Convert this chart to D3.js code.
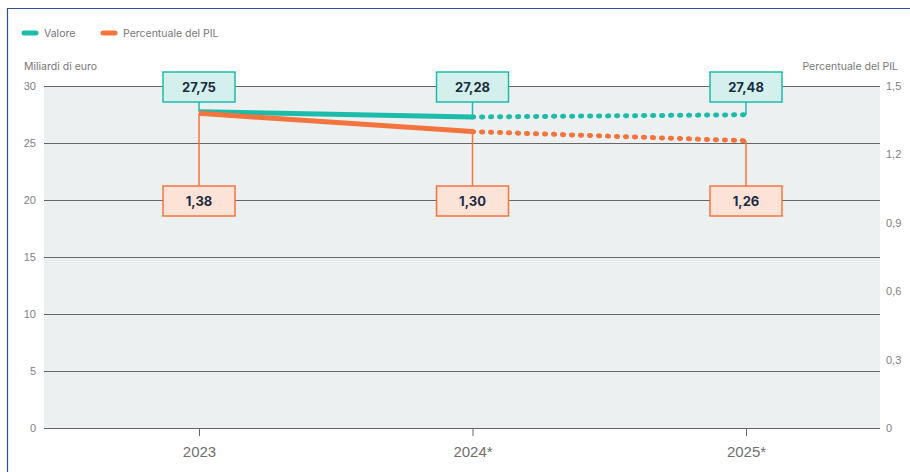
<!DOCTYPE html>
<html><head><meta charset="utf-8">
<script src="https://cdn.jsdelivr.net/npm/d3@7"></script>
<style>body{margin:0;background:#fff;}svg{display:block;font-family:Inter,"Noto Sans",sans-serif;}</style>
</head><body><svg id="c" width="910" height="472"></svg>
<script>
const categories = ["2023", "2024*", "2025*"];
const valore = [27.75, 27.28, 27.48];
const percentuale = [1.38, 1.30, 1.26];
const valoreLabels = ["27,75", "27,28", "27,48"];
const percLabels = ["1,38", "1,30", "1,26"];
const leftTicks = [0, 5, 10, 15, 20, 25, 30];
const rightTicks = [0, 0.3, 0.6, 0.9, 1.2, 1.5];
const fmtRight = d => d === 0 ? "0" : d.toFixed(1).replace(".", ",");

const svg = d3.select("#c");
const teal = "#1dbcaa", orange = "#f4743e";
const m = {l: 44, r: 880, t: 86, b: 428};

// frame
svg.append("line").attr("x1", 7.5).attr("x2", 7.5).attr("y1", 8).attr("y2", 472).attr("stroke", "#2c4ea0").attr("stroke-width", 1.2);
svg.append("line").attr("x1", 7).attr("x2", 910).attr("y1", 8.5).attr("y2", 8.5).attr("stroke", "#2c4ea0").attr("stroke-width", 1.2);

const x = d3.scalePoint().domain(categories).range([199, 746]);
const y = d3.scaleLinear().domain([0, 30]).range([m.b, m.t]);
const y2 = d3.scaleLinear().domain([0, 1.5]).range([m.b, m.t]);

svg.append("rect").attr("x", m.l).attr("y", m.t).attr("width", m.r - m.l).attr("height", m.b - m.t).attr("fill", "#edf0f0");

// left axis
const gl = svg.append("g").attr("transform", `translate(${m.l},0)`)
  .call(d3.axisLeft(y).tickValues(leftTicks).tickSize(-(m.r - m.l)).tickPadding(8));
gl.select(".domain").remove();
gl.selectAll(".tick line").attr("stroke", "#666").attr("stroke-width", 1);
gl.selectAll(".tick text").attr("fill", "#808080").attr("font-size", 11);

// right axis
const gr = svg.append("g").attr("transform", `translate(${m.r},0)`)
  .call(d3.axisRight(y2).tickValues(rightTicks).tickFormat(fmtRight).tickSize(0).tickPadding(6));
gr.select(".domain").remove();
gr.selectAll(".tick text").attr("fill", "#808080").attr("font-size", 11);

// bottom axis
const gb = svg.append("g").attr("transform", `translate(0,${m.b})`)
  .call(d3.axisBottom(x).tickSize(8).tickPadding(10));
gb.select(".domain").attr("d", `M${m.l},0.5H${m.r}`).attr("stroke", "#666");
gb.selectAll(".tick line").attr("stroke", "#666");
gb.selectAll(".tick text").attr("fill", "#707070").attr("font-size", 15);

// axis titles
svg.append("text").attr("x", 24).attr("y", 70).attr("font-size", 10.5).attr("fill", "#777").text("Miliardi di euro");
svg.append("text").attr("x", 898).attr("y", 70).attr("text-anchor", "end").attr("font-size", 10.5).attr("fill", "#777").text("Percentuale del PIL");

// legend
const leg = [{c: teal, t: "Valore", x: 22}, {c: orange, t: "Percentuale del PIL", x: 101}];
leg.forEach(l => {
  svg.append("line").attr("x1", l.x + 2).attr("x2", l.x + 14).attr("y1", 33).attr("y2", 33)
    .attr("stroke", l.c).attr("stroke-width", 5).attr("stroke-linecap", "round");
  svg.append("text").attr("x", l.x + 22).attr("y", 37).attr("font-size", 10.5).attr("fill", "#777").text(l.t);
});

function drawSeries(vals, sc, color) {
  const pts = vals.map((v, i) => [x(categories[i]), sc(v)]);
  const line = d3.line();
  svg.append("path").attr("d", line(pts.slice(0, 2))).attr("fill", "none")
    .attr("stroke", color).attr("stroke-width", 5);
  svg.append("path").attr("d", line(pts.slice(1))).attr("fill", "none")
    .attr("stroke", color).attr("stroke-width", 5).attr("stroke-linecap", "round")
    .attr("stroke-dasharray", "1.2 7.8");
  return pts;
}

// connectors first
const boxW = 72, boxH = 30;
const tealBoxY = 72, orBoxY = 186;
categories.forEach((c, i) => {
  svg.append("line").attr("x1", x(c)).attr("x2", x(c)).attr("y1", tealBoxY + boxH).attr("y2", y(valore[i]))
    .attr("stroke", teal).attr("stroke-width", 1.5);
  svg.append("line").attr("x1", x(c)).attr("x2", x(c)).attr("y1", y2(percentuale[i])).attr("y2", orBoxY)
    .attr("stroke", orange).attr("stroke-width", 1.5);
});

drawSeries(valore, y, teal);
drawSeries(percentuale, y2, orange);

categories.forEach((c, i) => {
  const cx = x(c);
  svg.append("rect").attr("x", cx - boxW / 2).attr("y", tealBoxY).attr("width", boxW).attr("height", boxH)
    .attr("fill", "#d3f0ed").attr("stroke", teal).attr("stroke-width", 1.5);
  svg.append("text").attr("x", cx).attr("y", tealBoxY + boxH / 2 + 5).attr("text-anchor", "middle")
    .attr("font-size", 13).attr("font-weight", 700).attr("fill", "#1a2b40").text(valoreLabels[i]);
  svg.append("rect").attr("x", cx - boxW / 2).attr("y", orBoxY).attr("width", boxW).attr("height", boxH)
    .attr("fill", "#fde2d7").attr("stroke", orange).attr("stroke-width", 1.5);
  svg.append("text").attr("x", cx).attr("y", orBoxY + boxH / 2 + 5).attr("text-anchor", "middle")
    .attr("font-size", 13).attr("font-weight", 700).attr("fill", "#1a2b40").text(percLabels[i]);
});
</script></body></html>
